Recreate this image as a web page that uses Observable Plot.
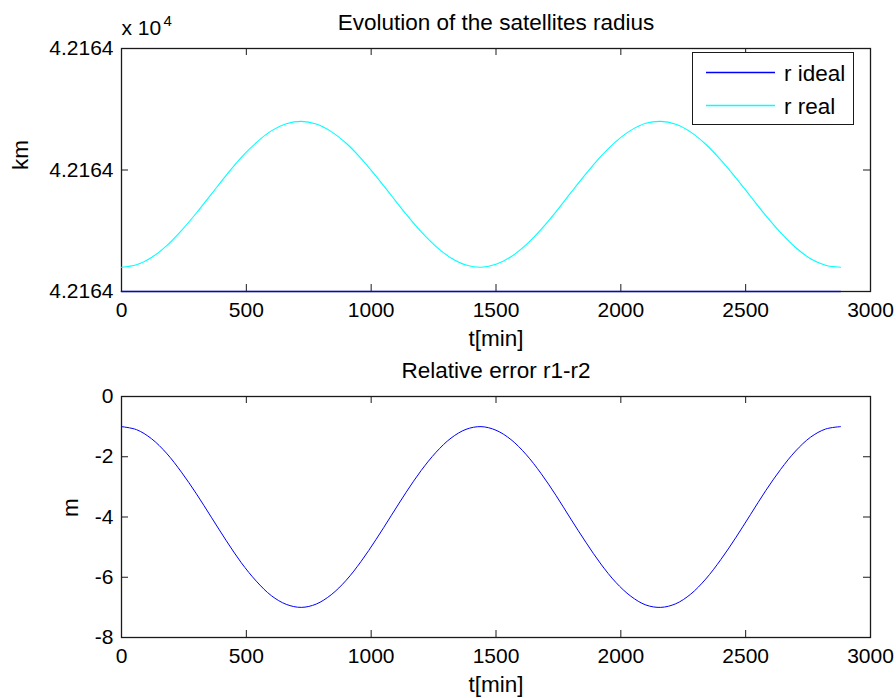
<!DOCTYPE html>
<html>
<head>
<meta charset="utf-8">
<script src="https://cdn.jsdelivr.net/npm/d3@7"></script>
<script src="https://cdn.jsdelivr.net/npm/@observablehq/plot@0.6"></script>
<style>
  html, body { margin: 0; padding: 0; background: #fff; }
  #chart { width: 896px; height: 698px; position: relative; }
  #chart svg { display: block; }
</style>
</head>
<body>
<div id="chart"></div>
<script>
// ---- data ----
const tMin = [0,60,120,180,240,300,360,420,480,540,600,660,720,780,840,900,960,1020,1080,1140,1200,1260,1320,1380,1440,1500,1560,1620,1680,1740,1800,1860,1920,1980,2040,2100,2160,2220,2280,2340,2400,2460,2520,2580,2640,2700,2760,2820,2880];
// relative error r1 - r2 in metres
const errM = [-1.00,-1.10,-1.40,-1.88,-2.51,-3.23,-4.01,-4.79,-5.52,-6.13,-6.61,-6.90,-7.00,-6.89,-6.58,-6.10,-5.47,-4.74,-3.96,-3.18,-2.46,-1.85,-1.38,-1.09,-1.00,-1.12,-1.43,-1.92,-2.55,-3.28,-4.07,-4.84,-5.56,-6.17,-6.63,-6.92,-7.00,-6.88,-6.56,-6.06,-5.42,-4.69,-3.91,-3.13,-2.42,-1.81,-1.35,-1.08,-1.00];
const rIdealKm = 42164.17;            // ideal geostationary radius (km)
const seriesNames = ["r ideal", "r real"];
const seriesColors = ["#0000ff", "#00ffff"];
const xTicks = [0,500,1000,1500,2000,2500,3000];
const yTicksTop = [42164.17, 42164.175, 42164.18];
const yTicksBottom = [-8,-6,-4,-2,0];
const titleTop = "Evolution of the satellites radius";
const titleBottom = "Relative error r1-r2";
const xLabel = "t[min]";
const yLabelTop = "km";
const yLabelBottom = "m";

const rows = tMin.map((t, i) => ({
  t,
  err: errM[i],
  ideal: rIdealKm,
  real: rIdealKm - errM[i] / 1000
}));

const FONT = "'Liberation Sans', Arial, Helvetica, sans-serif";
const TICK_FS = 21;
const LABEL_FS = 22.5;
const AX = "#1a1a1a";
const W = 896, H = 349;

function boxTicks(yTicks, frameW, frameH) {
  return [
    Plot.tickX(xTicks, {x: d => d, insetTop: frameH - 7, stroke: AX, strokeWidth: 1}),
    Plot.tickX(xTicks, {x: d => d, insetBottom: frameH - 7, stroke: AX, strokeWidth: 1}),
    Plot.tickY(yTicks, {y: d => d, insetRight: frameW - 7, stroke: AX, strokeWidth: 1}),
    Plot.tickY(yTicks, {y: d => d, insetLeft: frameW - 7, stroke: AX, strokeWidth: 1})
  ];
}

// ---- top panel ----
const mT = {top: 48, right: 26, bottom: 58, left: 121};
const fwT = W - mT.left - mT.right, fhT = H - mT.top - mT.bottom;
const topSvg = Plot.plot({
  width: W, height: H,
  marginTop: mT.top, marginRight: mT.right, marginBottom: mT.bottom, marginLeft: mT.left,
  style: {fontFamily: FONT, fontSize: TICK_FS + "px", color: "#000", background: "#fff", overflow: "visible"},
  x: {domain: [0, 3000]},
  y: {domain: [yTicksTop[0], yTicksTop[yTicksTop.length - 1]]},
  marks: [
    Plot.axisX(xTicks, {tickSize: 0, tickPadding: 11, label: null, fontSize: TICK_FS, tickFormat: d => String(d)}),
    Plot.axisY(yTicksTop, {tickSize: 0, tickPadding: 8, label: null, fontSize: TICK_FS,
      tickFormat: d => (d / 1e4).toFixed(4)}),
    ...boxTicks(yTicksTop, fwT, fhT),
    Plot.frame({stroke: AX, strokeWidth: 1.3}),
    Plot.line(rows, {x: "t", y: "real", stroke: seriesColors[1], strokeWidth: 1.1, curve: "catmull-rom"}),
    Plot.line(rows, {x: "t", y: "ideal", stroke: seriesColors[0], strokeWidth: 1.6, strokeOpacity: 0.75}),
    Plot.text([titleTop], {text: d => d, frameAnchor: "top", lineAnchor: "bottom", dy: -19, fontSize: LABEL_FS}),
    Plot.text([xLabel], {text: d => d, frameAnchor: "bottom", lineAnchor: "bottom", dy: 54, fontSize: LABEL_FS}),
    Plot.text([yLabelTop], {text: d => d, frameAnchor: "left", rotate: -90, lineAnchor: "middle", dx: -101, fontSize: LABEL_FS}),
    Plot.text(["x 10"], {text: d => d, frameAnchor: "top-left", textAnchor: "start", lineAnchor: "bottom", dy: -14, dx: 0, fontSize: TICK_FS}),
    Plot.text(["4"], {text: d => d, frameAnchor: "top-left", textAnchor: "start", lineAnchor: "bottom", dy: -23, dx: 42, fontSize: 15})
  ]
});

// legend (chart chrome) appended into the top svg
{
  const g = d3.select(topSvg).append("g")
    .attr("font-family", FONT).attr("font-size", LABEL_FS).attr("text-anchor", "start");
  g.append("rect").attr("x", 692.5).attr("y", 52.5).attr("width", 161).attr("height", 72)
    .attr("fill", "#fff").attr("stroke", AX).attr("stroke-width", 1);
  seriesNames.forEach((name, i) => {
    const y = 72.5 + i * 33;
    g.append("line").attr("x1", 706).attr("x2", 775).attr("y1", y).attr("y2", y)
      .attr("stroke", seriesColors[i]).attr("stroke-width", 1.5);
    g.append("text").attr("x", 784).attr("y", y + 8).attr("fill", "#000")
      .attr("text-anchor", "start").text(name);
  });
}

// ---- bottom panel ----
const mB = {top: 47, right: 26, bottom: 61, left: 121};
const fwB = W - mB.left - mB.right, fhB = H - mB.top - mB.bottom;
const bottomSvg = Plot.plot({
  width: W, height: H,
  marginTop: mB.top, marginRight: mB.right, marginBottom: mB.bottom, marginLeft: mB.left,
  style: {fontFamily: FONT, fontSize: TICK_FS + "px", color: "#000", background: "#fff", overflow: "visible"},
  x: {domain: [0, 3000]},
  y: {domain: [-8, 0]},
  marks: [
    Plot.axisX(xTicks, {tickSize: 0, tickPadding: 11, label: null, fontSize: TICK_FS, tickFormat: d => String(d)}),
    Plot.axisY(yTicksBottom, {tickSize: 0, tickPadding: 8, label: null, fontSize: TICK_FS, tickFormat: d => String(d)}),
    ...boxTicks(yTicksBottom, fwB, fhB),
    Plot.frame({stroke: AX, strokeWidth: 1.3}),
    Plot.line(rows, {x: "t", y: "err", stroke: seriesColors[0], strokeWidth: 1, curve: "catmull-rom"}),
    Plot.text([titleBottom], {text: d => d, frameAnchor: "top", lineAnchor: "bottom", dy: -19, fontSize: LABEL_FS}),
    Plot.text([xLabel], {text: d => d, frameAnchor: "bottom", lineAnchor: "bottom", dy: 54, fontSize: LABEL_FS}),
    Plot.text([yLabelBottom], {text: d => d, frameAnchor: "left", rotate: -90, lineAnchor: "middle", dx: -51, fontSize: LABEL_FS})
  ]
});

const chart = document.getElementById("chart");
chart.appendChild(topSvg);
chart.appendChild(bottomSvg);
</script>
</body>
</html>
